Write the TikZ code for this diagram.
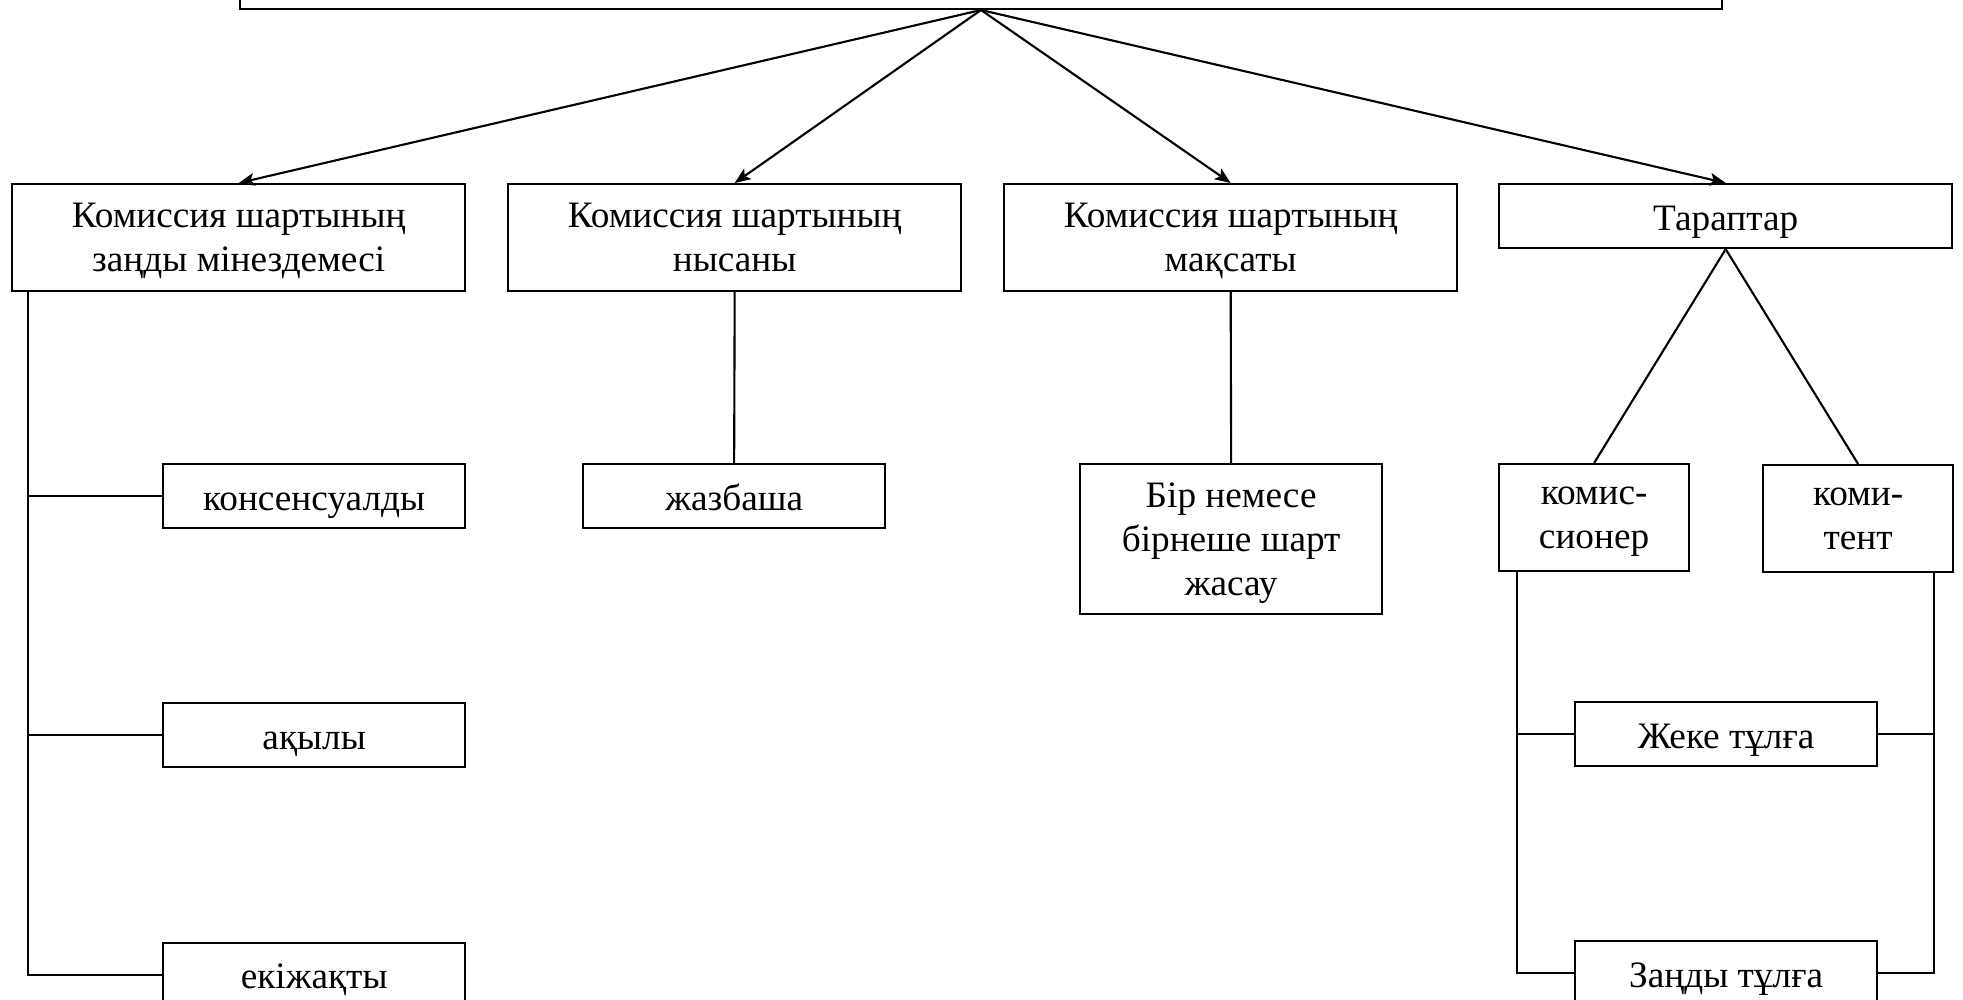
\documentclass[tikz,border=0pt]{standalone}
\usepackage{fontspec}
\setmainfont{Liberation Serif}
\usetikzlibrary{arrows.meta, positioning}

\begin{document}
\begin{tikzpicture}[x=0.01cm, y=-0.01cm, node distance=1.73cm, semithick, font=\fontsize{10.6}{12.5}\selectfont]
    \tikzstyle{box}=[draw, align=center, inner sep=0pt, anchor=north west, minimum width=4.53cm, minimum height=1.07cm, text depth=-0.5pt]
    \tikzstyle{leaf}=[box, minimum width=3.02cm, minimum height=0.64cm, text height=10pt, text depth=2pt]
    \tikzstyle{party}=[box, minimum width=1.9cm]

    \useasboundingbox (0,0) rectangle (1963,1000);

    \node[box, anchor=south, minimum width=14.81cm, minimum height=0.6cm] (root) at (981,10) {};

    \node[box] (nature) at (11,183) {Комиссия шартының\\заңды мінездемесі};
    \node[box] (form) at (507,183) {Комиссия шартының\\нысаны};
    \node[box] (aim) at (1003,183) {Комиссия шартының\\мақсаты};
    \node[box, minimum height=0.64cm, text height=10pt, text depth=2pt] (parties) at (1498,183) {Тараптар};

    \node[leaf] (consensual) at (162,463) {консенсуалды};
    \node[leaf, below=of consensual] (paid) {ақылы};
    \node[leaf, below=of paid] (bilateral) {екіжақты};

    \node[leaf] (written) at (582,463) {жазбаша};
    \node[box, minimum width=3.02cm, minimum height=1.5cm] (deals) at (1079,463) {Бір немесе\\бірнеше шарт\\жасау};

    \node[party] (agent) at (1498,463) {комис-\\сионер};
    \node[party] (principal) at (1762,464) {коми-\\тент};
    \node[leaf] (person) at (1574,701) {Жеке тұлға};
    \node[leaf, below=of person] (entity) {Заңды тұлға};

    \draw[-{Stealth[length=4.5pt, width=3.6pt, inset=1pt]}] (root.south) -- (nature.north);
    \draw[-{Stealth[length=4.5pt, width=3.6pt, inset=1pt]}] (root.south) -- (form.north);
    \draw[-{Stealth[length=4.5pt, width=3.6pt, inset=1pt]}] (root.south) -- (aim.north);
    \draw[-{Stealth[length=4.5pt, width=3.6pt, inset=1pt]}] (root.south) -- (parties.north);

    \draw ([xshift=0.17cm]nature.south west) |- (consensual.west);
    \draw ([xshift=0.17cm]nature.south west) |- (paid.west);
    \draw ([xshift=0.17cm]nature.south west) |- (bilateral.west);

    \draw (form.south) -- (written.north);
    \draw (aim.south) -- (deals.north);

    \draw (parties.south) -- (agent.north);
    \draw (parties.south) -- (principal.north);
    \draw ([xshift=0.19cm]agent.south west) |- (person.west);
    \draw ([xshift=0.19cm]agent.south west) |- (entity.west);
    \draw ([xshift=-0.2cm]principal.south east) |- (person.east);
    \draw ([xshift=-0.2cm]principal.south east) |- (entity.east);
\end{tikzpicture}
\end{document}
